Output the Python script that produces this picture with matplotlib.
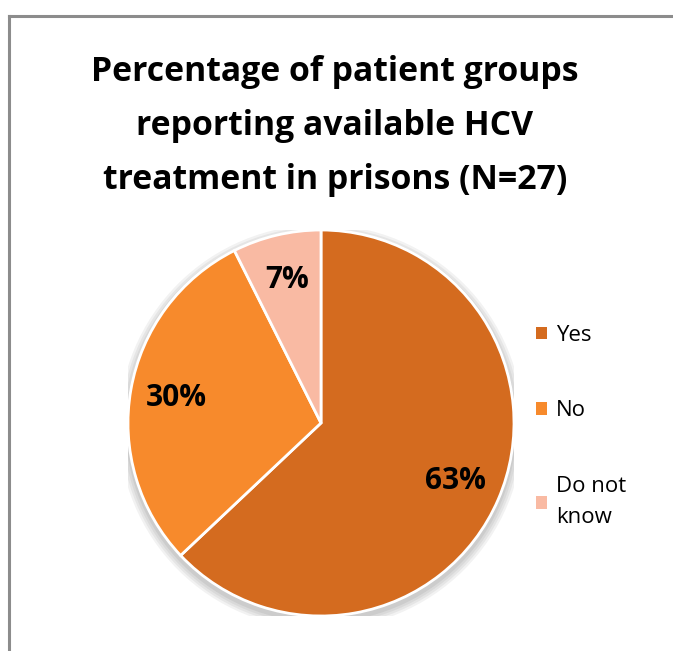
import matplotlib
matplotlib.use("Agg")
import matplotlib.pyplot as plt
from matplotlib.patches import Circle
import matplotlib.lines as mlines

categories = ["Yes", "No", "Do not\nknow"]
counts = [17, 8, 2]  # N = 27
colors = ["#D46B1F", "#F78A2C", "#F9BAA3"]
title = "Percentage of patient groups\nreporting available HCV\ntreatment in prisons (N=27)"

W, H = 673, 651
fig = plt.figure(figsize=(W / 100, H / 100), dpi=100)
plt.rcParams['font.family'] = ['Open Sans', 'DejaVu Sans']

# outer frame (left and top lines)
fig.add_artist(mlines.Line2D([9 / W, 9 / W], [0, 1 - 16 / H], color="#8C8C8C", lw=2.2, transform=fig.transFigure))
fig.add_artist(mlines.Line2D([9 / W, 1], [1 - 16 / H, 1 - 16 / H], color="#8C8C8C", lw=2.2, transform=fig.transFigure))

cx, cy, r = 321, 423, 193
ax = fig.add_axes([(cx - r) / W, (H - cy - r) / H, 2 * r / W, 2 * r / H])

# soft shadow
for i, a in enumerate([0.05, 0.05, 0.05, 0.06]):
    ax.add_patch(Circle((0, -0.02), 1.0 + 0.012 * (4 - i), color="black", alpha=a, lw=0, zorder=0))

wedges, texts, autotexts = ax.pie(
    counts, colors=colors, startangle=90, counterclock=False, radius=1.0,
    autopct=lambda p: f"{p:.0f}%", pctdistance=0.76,
    wedgeprops=dict(edgecolor="white", linewidth=2.0),
    textprops=dict(fontsize=21.5, fontweight="bold", color="black"),
)
for w in wedges:
    w.set_zorder(2)
for t in autotexts:
    t.set_zorder(3)
ax.set_xlim(-1, 1)
ax.set_ylim(-1, 1)
ax.axis("off")

fig.text(335 / W, 1 - 126 / H, title, ha="center", va="center", fontsize=24.3,
         fontweight="bold", linespacing=1.78, color="black")

leg = fig.legend(wedges, categories, loc="upper left", bbox_to_anchor=(516 / W, 1 - 305 / H),
                 frameon=False, fontsize=16, handlelength=0.5, handleheight=0.5,
                 handletextpad=0.4, labelspacing=2.45)
for h in leg.legend_handles:
    h.set_edgecolor("none")
for t in leg.get_texts():
    t.set_linespacing(1.65)

fig.savefig("out.png", dpi=100)
